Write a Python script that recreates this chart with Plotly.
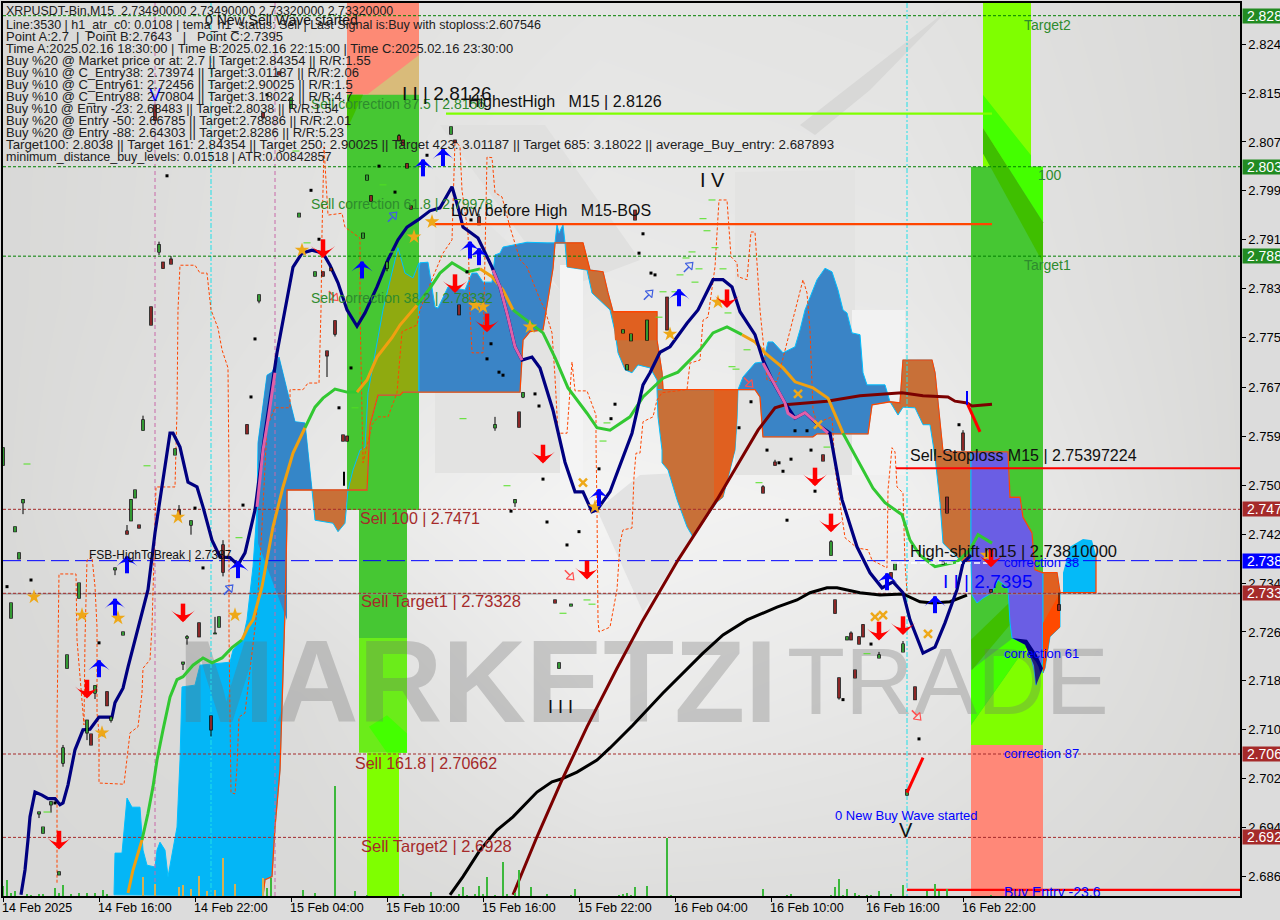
import plotly.graph_objects as go

# ---------- axis calibration ----------
BAR_MAX = 309.25
P_TOP, P_BOT = 2.8309, 2.6831

tick_prices = [2.8241,2.8160,2.8079,2.7998,2.7917,2.7836,2.7755,2.7673,2.7592,2.7511,2.7430,2.7349,2.7268,2.7187,2.7106,2.7025,2.6944,2.6863]
tick_labels = ["2.8241","2.8157","2.8079","2.7998","2.7916","2.7836","2.7754","2.7673","2.7592","2.7509","2.7428","2.7347","2.7266","2.7185","2.7104","2.7023","2.6942","2.6861"]
time_bars = [0,24,48,72,96,120,144,168,192,216,240]
time_labels = ["14 Feb 2025","14 Feb 16:00","14 Feb 22:00","15 Feb 04:00","15 Feb 10:00","15 Feb 16:00","15 Feb 22:00","16 Feb 04:00","16 Feb 10:00","16 Feb 16:00","16 Feb 22:00"]

# ---------- indicator lines ----------
tema_bar = [4.5,5.5,6.25,6.75,8,9.75,11.25,13,14.25,15,16.25,18,20,21.75,24,27.25,28,30,31.25,33,34.75,36.25,38,40,41.75,42.5,44.25,46.25,48.5,50,52.25,54.25,56.75,58.75,60.5,63,65.5,68.5,70.5,72.5,74.75,77.25,80,81.75,83.75,86,88.5,90.5,93.5,96.25,98.75,101,103.75,106.75,109.25,112.25,113.75,115,118.75,122.25,124.25,126.25,128,129.75,132.25,134.25,137.5,140.5,143,145,147.25,148.5,151.75,154.75,157.25,160,161.75,164.25,166.75,171,173.75,177.5,180,182.25,184.25,188,190,192.5,195.5,198,200.5,203.75,206.75,209.75,213.5,216.75,219.75,222.5,225,226.75,230,233,235.5,238.5,240,242]
tema_price = [2.6833,2.6874,2.6924,2.6962,2.7003,2.6998,2.6992,2.6992,2.6982,2.6985,2.7015,2.7073,2.7106,2.7107,2.7127,2.7127,2.7151,2.7175,2.7210,2.7255,2.7299,2.7338,2.7432,2.7525,2.7597,2.7597,2.7574,2.7516,2.7508,2.7475,2.7420,2.7392,2.7391,2.7379,2.7399,2.7470,2.7597,2.7730,2.7801,2.7872,2.7895,2.7900,2.7895,2.7875,2.7846,2.7801,2.7774,2.7796,2.7839,2.7884,2.7917,2.7938,2.7950,2.7965,2.7970,2.8005,2.7971,2.7938,2.7920,2.7872,2.7839,2.7789,2.7740,2.7718,2.7723,2.7705,2.7635,2.7549,2.7500,2.7500,2.7467,2.7470,2.7500,2.7553,2.7597,2.7677,2.7697,2.7731,2.7740,2.7779,2.7801,2.7851,2.7851,2.7839,2.7798,2.7760,2.7718,2.7682,2.7647,2.7622,2.7631,2.7611,2.7597,2.7487,2.7409,2.7366,2.7341,2.7351,2.7333,2.7288,2.7233,2.7243,2.7283,2.7338,2.7382,2.7395]
pink1_bar = [63.5,65,66.25,68]
pink1_price = [2.7475,2.7569,2.7619,2.7697]
pink2_bar = [122.5,124.25,126.25,128,129.75]
pink2_price = [2.7867,2.7839,2.7789,2.7740,2.7718]
pink3_bar = [190,192.5,195.5,196.25,198,200.5,203.75,206.25]
pink3_price = [2.7713,2.7682,2.7647,2.7630,2.7622,2.7631,2.7611,2.7597]

ma_bar = [31.25,32.5,34.75,36.25,37.5,38.5,40,41.75,43.5,45,47.5,50,52.25,54.75,57.25,59.75,61.25,62.5,64.75,67.5,70,72.5,75.5,78,80,83,86,88.5,91,93.5,97.25,99.25,103.5,106.75,109.25,112.25,116,119.25,122.25,125,127.5,131.75,135,138,141.25,146,148.5,151.75,156.75,160,165,168.75,174.25,177.5,181,184.75,188,190.5,195,198,202.5,206.25,210,214.25,217.5,220.5,224.75,226.75,229.25,233,238.5,241.75,243.75,247.25]
ma_price = [2.6836,2.6874,2.6924,2.6968,2.7012,2.7056,2.7106,2.7160,2.7189,2.7194,2.7213,2.7225,2.7217,2.7225,2.7242,2.7255,2.7276,2.7288,2.7343,2.7442,2.7508,2.7564,2.7606,2.7640,2.7655,2.7670,2.7665,2.7665,2.7685,2.7723,2.7755,2.7776,2.7809,2.7837,2.7862,2.7879,2.7864,2.7869,2.7856,2.7834,2.7801,2.7779,2.7763,2.7722,2.7672,2.7630,2.7606,2.7602,2.7624,2.7657,2.7688,2.7698,2.7735,2.7763,2.7773,2.7760,2.7748,2.7730,2.7705,2.7682,2.7672,2.7655,2.7597,2.7544,2.7506,2.7482,2.7462,2.7420,2.7395,2.7376,2.7384,2.7404,2.7429,2.7415]
ma_phase = list("ooo"+"g"*13+"o"*7+"g"*5+"o"*5+"g"*5+"ooo"+"g"*15+"o"*7+"g"*11)

dred_bar = [127.5,133.5,139.75,146,153.5,160,168.75,178.5,188.75,193,195.5,206,214.25,224.75,230,236.25,238,241,242.25,247.25]
dred_price = [2.6833,2.6929,2.7023,2.7111,2.7208,2.7288,2.7387,2.7487,2.7602,2.7639,2.7644,2.7650,2.7659,2.7664,2.7659,2.7657,2.7650,2.7647,2.7642,2.7645]
black_bar = [111.75,115,119.25,123.5,127.5,133.5,137.25,139.75,143.5,148.5,151.75,157.5,165,175,180,186,193.5,198.5,201.75,206,208.5,214.25,219.25,225,229.25,232.5,236.75,241]
black_price = [2.6833,2.6863,2.6907,2.6940,2.6962,2.7003,2.7020,2.7025,2.7036,2.7056,2.7076,2.7114,2.7167,2.7233,2.7263,2.7288,2.7309,2.7321,2.7333,2.7341,2.7341,2.7333,2.7329,2.7331,2.7318,2.7316,2.7318,2.7329]

step_bar = [13.5,13.5,14,18.25,18.5,20.25,20.5,21,22.25,23,23.5,23.5,24,24,30.25,31,31.75,33.75,34.75,35,36.75,37.25,37.5,38,38.25,43,43.5,43.75,44.25,48,49.25,51,52,53.75,54.75,56.25,56.5,56.5,56.5,57,58,58.5,59,60.5,62.5,63.5,64.75,66,68,71.75,71.75,75,76.25,79,79.5,79.75,80.25,81,81.25,84.75,85.5,89.25,89.25,90,92.25,93.75,96.25,98.5,99.75,103.5,104.25,107.5,110,112.25,113,114.25,114.75,116.25,116.75,117.25,120,121,122.25,123,124.75,126.75,129.25,131,134.25,135.5,137.25,138,138.75,141,142.25,143,146,148.25,148.25,148.5,148.75,149,151.75,153.5,154.25,155,157.25,157.75,158.25,159.25,160,162.5,163.5,164.75,171,171.75,174.25,175,176.25,178,179,181,182,183.5,183.75,186,187,188,188.75,189.25,191,193.5,200,201,201.75,202.5,203.5,207.25,208,209.25,210.5,213.5,216.25,217.25,221,221.25,222.25,223,223.5,225,225.5,226]
step_price = [2.6853,2.7122,2.7364,2.7364,2.7255,2.7114,2.7255,2.7387,2.7392,2.7343,2.7276,2.7134,2.7101,2.7018,2.7016,2.7061,2.7101,2.7111,2.7167,2.7208,2.7222,2.7276,2.7333,2.7470,2.7508,2.7508,2.7635,2.7801,2.7875,2.7875,2.7862,2.7862,2.7801,2.7771,2.7735,2.7705,2.7525,2.7359,2.7263,2.7002,2.7000,2.7045,2.7127,2.7134,2.7250,2.7304,2.7442,2.7607,2.7639,2.7639,2.7669,2.7669,2.7680,2.7680,2.7801,2.7928,2.8071,2.7983,2.7958,2.7961,2.7938,2.7920,2.7801,2.7548,2.7611,2.7624,2.7624,2.7664,2.7765,2.7776,2.7801,2.7856,2.7895,2.7917,2.8082,2.8071,2.7999,2.7928,2.7801,2.7730,2.7730,2.8054,2.8053,2.7995,2.7988,2.7938,2.7884,2.7872,2.7818,2.7801,2.7763,2.7690,2.7597,2.7597,2.7715,2.7667,2.7667,2.7627,2.7581,2.7470,2.7288,2.7268,2.7276,2.7338,2.7415,2.7437,2.7440,2.7525,2.7564,2.7564,2.7616,2.7624,2.7652,2.7664,2.7669,2.7713,2.7718,2.7784,2.7789,2.7872,2.7983,2.7983,2.7889,2.7879,2.7856,2.7851,2.7930,2.7930,2.7846,2.7801,2.7685,2.7682,2.7851,2.7829,2.7768,2.7635,2.7614,2.7624,2.7541,2.7482,2.7424,2.7407,2.7404,2.7387,2.7374,2.7503,2.7573,2.7566,2.7508,2.7498,2.7382,2.7333]

spanb_bar = [65,65.5,67.25,68,69.25,70,70.5,71,71,91,91.25,91.75,93.75,99.25,100,129.25,130,131.75,135,136,137.5,138,145,146.75,150,151.25,152.5,163.5,163.5,164.75,165,183.75,188,189.25,189.75,190,202.5,203.5,216.25,217.25,221.75,224.25,225,232.25,233,233.75,234.75,235,251.25,251.75,254.25,255,257.25,258,260,263.5,264.25,273.25,273.25]
spanb_price = [2.6831,2.6858,2.6863,2.6945,2.7040,2.7189,2.7304,2.7453,2.7503,2.7503,2.7541,2.7611,2.7660,2.7660,2.7665,2.7665,2.7751,2.7765,2.7768,2.7809,2.7870,2.7912,2.7912,2.7867,2.7864,2.7829,2.7798,2.7798,2.7751,2.7697,2.7669,2.7669,2.7669,2.7657,2.7614,2.7591,2.7591,2.7596,2.7596,2.7644,2.7649,2.7647,2.7718,2.7718,2.7697,2.7647,2.7591,2.7566,2.7566,2.7491,2.7491,2.7458,2.7432,2.7371,2.7366,2.7366,2.7333,2.7333,2.7395]

# ---------- clouds ----------
c1_bar = [27.75,28,29.75,31,32.25,34.25,35,36,38,38.5,39.25,40.5,41.25,42.5,43.5,44.25,44.75,48,49.25,56.75,57.5,60,61,62.5,63.5,63.75,66,67.25,69,71,73,75.5,76.75,77.25,71,71,70.5,70,69.25,68,67.25,65.5,65]
c1_price = [2.6833,2.6902,2.6902,2.6993,2.6978,2.6978,2.6907,2.6882,2.6879,2.6907,2.6920,2.6907,2.6863,2.6907,2.6945,2.7056,2.7177,2.7180,2.7213,2.7218,2.7238,2.7258,2.7288,2.7376,2.7470,2.7581,2.7693,2.7698,2.7723,2.7669,2.7616,2.7614,2.7536,2.7503,2.7503,2.7453,2.7304,2.7189,2.7040,2.6945,2.6863,2.6858,2.6831]
c1s_bar = [63.75,66,67.25,69,71,73,75.5,76.75,77.25,71,71,71,63.75]
c1s_price = [2.7581,2.7693,2.7698,2.7723,2.7669,2.7616,2.7614,2.7536,2.7503,2.7503,2.7453,2.7288,2.7415]
c2_bar = [77.25,78,82.5,83.75,85.5,86.25]
c2_price = [2.7503,2.7453,2.7448,2.7434,2.7448,2.7503]
c3o_bar = [86.25,87.5,89.25,90.5,91.25,95,98.75,100.5,102.5,104,104,100,99.25,93.75,91.75,91.25,91]
c3o_price = [2.7503,2.7536,2.7569,2.7574,2.7664,2.7801,2.7904,2.7862,2.7854,2.7879,2.7665,2.7665,2.7660,2.7660,2.7611,2.7541,2.7503]
c3_bar = [104,104.25,106.25,107.25,108,108.75,111.25,113,115.5,117.25,118.5,120,122.25,123,124.25,125,131,136,138,138.5,139,140,140.5,138,137.5,136,135,131.75,130,129.25,104]
c3_price = [2.7867,2.7879,2.7880,2.7837,2.7806,2.7804,2.7839,2.7837,2.7834,2.7862,2.7862,2.7847,2.7847,2.7892,2.7895,2.7905,2.7913,2.7912,2.7912,2.7942,2.7928,2.7942,2.7912,2.7912,2.7870,2.7809,2.7768,2.7765,2.7751,2.7665,2.7665]
c4_bar = [138,145,146.75,150,151.25,152.5,163.5,163.5,164.75,165,163.5,163.5,161.75,158.75,157.25,155.5,153.75,153,151.75,147.25,146,141,140.5]
c4_price = [2.7912,2.7912,2.7867,2.7864,2.7829,2.7798,2.7798,2.7751,2.7697,2.7669,2.7669,2.7685,2.7705,2.7710,2.7697,2.7702,2.7730,2.7765,2.7801,2.7829,2.7867,2.7872,2.7912]
c4a_bar = [141,145,146.75,146,141]
c4a_price = [2.7912,2.7912,2.7867,2.7867,2.7872]
c4b_bar = [152.5,163.5,163.5,153]
c4b_price = [2.7798,2.7798,2.7751,2.7751]
c5_bar = [165,183.75,183.5,183,181.75,180,178.5,172.5,171,168.5,166.25,164.75,164.75,163.75,163.5]
c5_price = [2.7669,2.7669,2.7619,2.7569,2.7536,2.7491,2.7483,2.7425,2.7442,2.7487,2.7536,2.7548,2.7569,2.7624,2.7669]
c5a_bar = [177.75,183.75,183.5,183,181.75,180,178.5,177.75]
c5a_price = [2.7669,2.7669,2.7619,2.7569,2.7536,2.7491,2.7483,2.7478]
c6_bar = [183.75,185,188,190,191.25,192.5,195,198,199.25,200.5,203.5,205.5,207.25,208.75,210,211,212.25,214.25,215,216,220.5,221.75,217.25,216.25,203.5,202.5,190,189.75,189.25,188]
c6_price = [2.7669,2.7690,2.7713,2.7715,2.7748,2.7748,2.7730,2.7740,2.7768,2.7801,2.7851,2.7870,2.7864,2.7834,2.7801,2.7796,2.7763,2.7760,2.7697,2.7677,2.7677,2.7649,2.7644,2.7596,2.7596,2.7591,2.7591,2.7614,2.7657,2.7669]
c7_bar = [221.75,224.25,225,232.25,233,233.75,234.75,235,242,242,240,238.5,235,234.25,233,231.75,230,228,225,223.75]
c7_price = [2.7649,2.7647,2.7718,2.7718,2.7697,2.7647,2.7591,2.7566,2.7566,2.7382,2.7382,2.7392,2.7415,2.7482,2.7558,2.7611,2.7611,2.7639,2.7640,2.7627]
c8_bar = [242,251.25,251.75,254.25,255,257.25,258,260,260,258.25,257.75,256.25,252.25,251.75,251.25,248.75,247.25,245,243.5,242.25,242]
c8_price = [2.7566,2.7566,2.7491,2.7491,2.7458,2.7432,2.7371,2.7366,2.7222,2.7180,2.7205,2.7247,2.7258,2.7283,2.7341,2.7354,2.7333,2.7324,2.7316,2.7329,2.7382]
c9_bar = [260,263.5,264.25,264.25,261.75,260.5,260]
c9_price = [2.7366,2.7366,2.7333,2.7276,2.7260,2.7208,2.7200]
c9d_bar = [260,264.25,264.25,261.75,260.5,260]
c9d_price = [2.7283,2.7333,2.7276,2.7260,2.7208,2.7200]
cres_bar = [252.25,256,258.5,260,258.25,257.75,255.5]
cres_price = [2.7258,2.7255,2.7230,2.7208,2.7180,2.7213,2.7247]
c10_bar = [265,265,266.75,270,272.25,273.25,273.25]
c10_price = [2.7333,2.7366,2.7409,2.7422,2.7420,2.7395,2.7333]

# ---------- candles: bar, open, high, low, close ----------
candle_rows = [
(0,2.7544,2.7573,2.7544,2.7573),(2,2.7291,2.7316,2.7291,2.7316),(3,2.7434,2.7442,2.7434,2.7442),(4,2.7389,2.7399,2.7389,2.7399),(5,2.7482,2.7487,2.7463,2.7487),
(9,2.6967,2.6970,2.6960,2.6970),(10,2.6935,2.6945,2.6935,2.6945),(12,2.6982,2.6987,2.6969,2.6987),(14,2.6866,2.6871,2.6866,2.6871),(15,2.7051,2.7081,2.7045,2.7076),
(16,2.7208,2.7230,2.7208,2.7230),(19,2.7324,2.7349,2.7324,2.7349),(21,2.7101,2.7122,2.7089,2.7122),(22,2.7099,2.7099,2.7081,2.7081),(23,2.7167,2.7179,2.7157,2.7179),
(26,2.7169,2.7169,2.7146,2.7146),(27,2.7122,2.7127,2.7118,2.7127),(28,2.7371,2.7374,2.7362,2.7374),(30,2.7263,2.7268,2.7263,2.7268),(31,2.7435,2.7445,2.7430,2.7430),
(32,2.7452,2.7487,2.7452,2.7487),(33,2.7490,2.7503,2.7490,2.7503),(34,2.7445,2.7445,2.7440,2.7440),(35,2.7602,2.7626,2.7601,2.7619),(37,2.7806,2.7806,2.7776,2.7776),
(38,2.8140,2.8140,2.8115,2.8115),(39,2.7897,2.7914,2.7892,2.7909),(40,2.7880,2.7880,2.7870,2.7870),(42,2.7885,2.7890,2.7877,2.7877),(43,2.7561,2.7571,2.7561,2.7571),
(44,2.7470,2.7478,2.7462,2.7462),(45,2.7215,2.7218,2.7205,2.7218),(46,2.7258,2.7263,2.7247,2.7260),(47,2.7445,2.7452,2.7429,2.7452),(49,2.7283,2.7283,2.7260,2.7260),
(52,2.7129,2.7129,2.7095,2.7106),(53,2.7265,2.7293,2.7265,2.7266),(54,2.7276,2.7293,2.7276,2.7293),(55,2.7412,2.7420,2.7360,2.7367),(61,2.7611,2.7611,2.7596,2.7596),
(64,2.7816,2.7826,2.7812,2.7826),(65,2.8127,2.8127,2.8119,2.8119),(69,2.8195,2.8195,2.8190,2.8190),(72,2.8135,2.8152,2.8135,2.8152),(74,2.7955,2.7961,2.7955,2.7961),
(78,2.7857,2.7864,2.7857,2.7864),(80,2.7864,2.7864,2.7857,2.7857),(81,2.7733,2.7733,2.7690,2.7725),(82,2.7870,2.7870,2.7866,2.7866),(83,2.7783,2.7783,2.7757,2.7761),
(85,2.7594,2.7594,2.7584,2.7584),(86,2.7592,2.7592,2.7584,2.7584),(90,2.7920,2.7928,2.7920,2.7928),(91,2.8016,2.8024,2.8016,2.8024),(92,2.7990,2.7990,2.7981,2.7981),
(96,2.7870,2.7880,2.7865,2.7880),(99,2.8089,2.8092,2.8081,2.8081),(100,2.8082,2.8082,2.8074,2.8074),(101,2.8043,2.8043,2.8036,2.8036),(102,2.7973,2.7973,2.7968,2.7968),
(112,2.8092,2.8104,2.8092,2.8104),(113,2.8082,2.8082,2.8078,2.8078),(114,2.7809,2.7809,2.7793,2.7793),(119,2.7955,2.7960,2.7942,2.7942),(123,2.7606,2.7624,2.7601,2.7611),
(128,2.7482,2.7487,2.7475,2.7487),(129,2.7632,2.7632,2.7607,2.7607),(130,2.7657,2.7664,2.7655,2.7664),(138,2.7321,2.7321,2.7316,2.7316),(139,2.7208,2.7217,2.7208,2.7217),
(142,2.7311,2.7314,2.7311,2.7314),(155,2.7763,2.7768,2.7763,2.7768),(156,2.7702,2.7710,2.7702,2.7710),(157,2.7750,2.7761,2.7750,2.7761),(158,2.7966,2.7966,2.7950,2.7950),
(161,2.7751,2.7784,2.7751,2.7784),(166,2.7822,2.7822,2.7768,2.7768),(190,2.7508,2.7511,2.7498,2.7498),(193,2.7549,2.7553,2.7544,2.7544),(205,2.7561,2.7561,2.7551,2.7551),
(207,2.7395,2.7420,2.7395,2.7417),(208,2.7321,2.7321,2.7299,2.7299),(209,2.7192,2.7192,2.7156,2.7159),(211,2.7255,2.7260,2.7255,2.7260),(212,2.7266,2.7269,2.7255,2.7255),
(213,2.7205,2.7205,2.7192,2.7192),(214,2.7260,2.7260,2.7248,2.7248),(215,2.7280,2.7280,2.7260,2.7260),(219,2.7225,2.7235,2.7225,2.7230),(222,2.7366,2.7366,2.7357,2.7357),
(223,2.7371,2.7382,2.7371,2.7382),(225,2.7235,2.7253,2.7235,2.7248),(226,2.6998,2.7007,2.6998,2.7007),(228,2.7177,2.7177,2.7156,2.7156),(236,2.7491,2.7491,2.7465,2.7465),
(240,2.7597,2.7602,2.7569,2.7569),(247,2.7338,2.7338,2.7334,2.7334),(264,2.7313,2.7333,2.7304,2.7304),
]
tiny_bar = [1,7,13,24,25,41,48,50,60,62,63,66,77,79,84,87,94,98,103,106,116,117,121,122,124,125,127,133,134,135,136,141,144,149,152,153,159,160,162,163,184,187,191,194,195,196,197,198,201,202,203,210,217,229,235,239]
tiny_price = [2.7343,2.7354,2.6985,2.7250,2.7098,2.8023,2.7473,2.7374,2.7478,2.7657,2.7753,2.8157,2.7999,2.7918,2.7639,2.7705,2.8039,2.7996,2.7920,2.8057,2.7864,2.7950,2.7720,2.7745,2.7698,2.7693,2.7468,2.7662,2.7642,2.7521,2.7450,2.7412,2.7434,2.7538,2.7621,2.7645,2.7895,2.7927,2.7862,2.7859,2.7606,2.7649,2.7569,2.7548,2.7534,2.7453,2.7554,2.7601,2.7601,2.7569,2.7501,2.7156,2.7248,2.7091,2.7382,2.7611]

# ---------- volumes (tick volume, arbitrary units) ----------
vol_bar = [0,1,2,3,6,7,9,10,13,14,15,17,19,21,23,25,26,35,38,44,45,47,49,51,53,55,58,65,66,67,75,78,83,88,91,100,107,114,115,116,118,119,120,121,123,125,126,128,129,132,136,142,143,154,155,156,157,158,161,166,167,190,196,197,207,208,209,210,211,213,214,216,217,219,222,225,231,233,234,236,247]
vol_size = [10,16,3,5,2,1,2,2,8,3,11,2,3,3,3,6,2,19,12,9,11,7,20,5,6,38,12,18,8,18,6,3,110,5,1,2,4,2,9,1,2,10,2,19,1,34,2,3,26,9,2,1,7,1,2,3,1,9,10,58,1,7,1,2,1,9,17,1,7,3,1,1,1,5,2,11,5,12,5,7,1]

# ---------- signal markers ----------
up_bar = [89.75,105,110,116.75,119,149,169,31,58.75,28,24,221,233]
up_price = [2.7867,2.8036,2.8053,2.7900,2.7889,2.7490,2.7821,2.7379,2.7371,2.7309,2.7207,2.7351,2.7313]
down_bar = [80,113,121,135,146,203,207,181,14,21,45,219,225,247]
down_price = [2.7904,2.7846,2.7781,2.7564,2.7372,2.7526,2.7450,2.7821,2.6925,2.7175,2.7301,2.7271,2.7280,2.7392]
star_bar = [74.75,102.75,43.75,7.75,19.75,28.75,58,24.75,107.25,118,120,178.75,166.75,131.75,148,246]
star_price = [2.7900,2.7922,2.7458,2.7326,2.7296,2.7291,2.7296,2.7101,2.7947,2.7809,2.7806,2.7814,2.7761,2.7773,2.7475,2.7395]
cross_bar = [145,198.75,203.75,218,220,231.25]
cross_price = [2.7515,2.7662,2.7611,2.7293,2.7296,2.7265]
hollow_blue_bar = [97.75,56.75,171.75,161.75]
hollow_blue_price = [2.7958,2.7341,2.7875,2.7829]
hollow_red_bar = [83,186.75,142,228.75]
hollow_red_price = [2.7821,2.7678,2.7359,2.7127]
lime_bar = [6,36,59,88,76,73.25,95,97.25,177.25,175,176,178,172.25,170.75,174,169.25,180,173,165,168,126,115,150,151,182.25,183.25,181.25,186,189,146,147.25,140,164,206,11,216]
lime_price = [2.7546,2.7543,2.7424,2.7639,2.7912,2.8064,2.8008,2.7897,2.7983,2.7952,2.7932,2.7904,2.7897,2.7887,2.7869,2.7859,2.7869,2.7847,2.7831,2.7831,2.7510,2.7621,2.7584,2.7614,2.7707,2.7703,2.7796,2.7735,2.7515,2.7321,2.7314,2.7299,2.7789,2.7574,2.6970,2.7232]

# ---------- levels ----------
level_green = [2.8288,2.8038,2.7890]
level_green_tag = ["2.8286","2.8038","2.7886"]
level_brown = [2.7471,2.7332,2.7066,2.6928]
level_brown_tag = ["2.7471","2.7332","2.7066","2.6928"]
level_blue = 2.7386
level_blue_tag = "2.7387"
vlines_magenta = [38,68]
vlines_cyan = [52,226]

# ---------- helpers ----------
def bx(px): return (px-3)/4
def py(yp): return 2.8314-yp*0.0001655

traces = []
def add(t): traces.append(t)
def poly(xs,ys,color,edge=None,w=0):
    add(go.Scatter(x=xs+xs[:1],y=ys+ys[:1],mode="lines",fill="toself",fillcolor=color,
                   line=dict(color=edge or color,width=w if edge else 0),hoverinfo="skip",showlegend=False))
def line(xs,ys,color,w=1,dash=None):
    add(go.Scatter(x=xs,y=ys,mode="lines",line=dict(color=color,width=w,dash=dash),hoverinfo="skip",showlegend=False,connectgaps=False))
def pts(xs,ys,sym,size,color,lw=0,lc=None,angle=0):
    add(go.Scatter(x=xs,y=ys,mode="markers",marker=dict(symbol=sym,size=size,color=color,angle=angle,
        line=dict(width=lw,color=lc or color)),hoverinfo="skip",showlegend=False,cliponaxis=True))
def label(xp,yp,text,size,color):
    add(go.Scatter(x=[bx(xp)],y=[py(yp+2)],mode="text",text=[text],textposition="middle right",
        textfont=dict(family="Liberation Sans",size=size,color=color),hoverinfo="skip",showlegend=False,cliponaxis=True))

# background gradient
bg_px_x = [-20,300,600,900,1260]
bg_px_y = [-20,300,500,700,920]
bg_z = [[216,224,228,226,216],[216,226,234,232,216],[216,232,244,240,216],[216,220,236,230,216],[216,216,220,220,214]]
add(go.Heatmap(x=[bx(v) for v in bg_px_x],y=[py(v) for v in bg_px_y],z=bg_z,zsmooth="best",zmin=200,zmax=255,
    colorscale=[[0,"rgb(200,200,198)"],[1,"rgb(255,255,255)"]],showscale=False,hoverinfo="skip"))

# faint logo behind the chart
def decor(points,color):
    poly([bx(p[0]) for p in points],[py(p[1]) for p in points],color)
decor([(435,175),(560,290),(560,473),(435,473)],"#e3e3e2")
decor([(440,125),(545,125),(640,260),(560,290)],"#e0e0df")
decor([(597,510),(643,612),(735,470),(640,475)],"#e3e3e3")
decor([(735,172),(855,170),(855,475),(735,475)],"#e3e3e2")
decor([(560,265),(583,265),(583,490),(560,490)],"#f4f4f4")
decor([(852,310),(905,310),(905,475),(852,475)],"#f2f2f2")
decor([(800,125),(950,8),(870,90),(815,135)],"#d8d8d7")

# time / price zones
poly([86,104,104,86],[2.8309,2.8309,2.8157,2.8157],"#fd8a75")
poly([91,104,104],[2.8157,2.8223,2.8157],"#d9bb7a")
poly([86,104,104,86],[2.8157,2.8157,2.7470,2.7470],"#46c733")
poly([86,90,86],[2.8157,2.8157,2.8100],"#3fbf00")
poly([89,101,101,89],[2.7470,2.7470,2.7258,2.7258],"#46c733")
poly([89,101,101,89],[2.7258,2.7258,2.7068,2.7068],"#6bec1a")
poly([91.5,96,101,101,96],[2.7111,2.7130,2.7100,2.7068,2.7068],"#44ff00")
poly([91,99,99,91],[2.7068,2.7068,2.6831,2.6831],"#7fff00")
poly([245,257,257,245],[2.8309,2.8309,2.8038,2.8038],"#7fff00")
poly([242,260,260,242],[2.8038,2.8038,2.7081,2.7081],"#46c733")
poly([245,257,257,260,260,245],[2.8157,2.8057,2.8038,2.8038,2.7946,2.8102],"#44ff00")
poly([245,260,260,245],[2.8102,2.7946,2.7879,2.8060],"#3fbf00")
poly([242,242,250,257,260,260],[2.7081,2.7114,2.7189,2.7255,2.7205,2.7081],"#7fff00")
poly([242,242,252.5,257,250],[2.7114,2.7205,2.7258,2.7255,2.7189],"#44ff00")
poly([251.5,251.75,242.25,242],[2.7316,2.7280,2.7205,2.7255],"#3fbf00")
poly([242,260,260,242],[2.7081,2.7081,2.6831,2.6831],"#ff8878")

# clouds
CY = "#00bfff"
poly(c1_bar,c1_price,"#04b6f6",CY,1)
poly(c1s_bar,c1s_price,"#3586c8")
poly(c2_bar,c2_price,"#c87038",CY,1)
poly(c3o_bar,c3o_price,"#8faa10",CY,1)
poly(c3_bar,c3_price,"#3a84c6",CY,1)
poly(c4_bar,c4_price,"#c87038",CY,1)
poly(c4a_bar,c4a_price,"#e06020")
poly(c4b_bar,c4b_price,"#e06020")
poly(c5_bar,c5_price,"#c87038",CY,1)
poly(c5a_bar,c5a_price,"#e06020")
poly(c6_bar,c6_price,"#3a84c6",CY,1)
poly(c7_bar,c7_price,"#c87038",CY,1)
poly(c8_bar,c8_price,"#6a5ee4",CY,1)
poly(c9_bar,c9_price,"#e06020",CY,1)
poly(c9d_bar,c9d_price,"#ff4a00")
poly(cres_bar,cres_price,"#000080")
poly(c10_bar,c10_price,"#04baf8")
line(spanb_bar,spanb_price,"#ff4500",1.3)

# watermark, semi-transparent over the zones and clouds
add(go.Scatter(x=[bx(178)],y=[py(693)],mode="text",text=["MARKETZI"],textposition="middle right",
    textfont=dict(family="Liberation Sans",size=116,weight=700,color="rgba(110,110,110,0.30)"),hoverinfo="skip",showlegend=False))
add(go.Scatter(x=[bx(787)],y=[py(690)],mode="text",text=["TRADE"],textposition="middle right",
    textfont=dict(family="Liberation Sans",size=95,color="rgba(110,110,110,0.30)"),hoverinfo="skip",showlegend=False))

# vertical dashed time lines
for v in vlines_magenta:
    line([v,v],[P_TOP,P_BOT],"#c868a8",1,"4px,3px")
for v in vlines_cyan:
    line([v,v],[P_TOP,P_BOT],"#20e0e8",1,"5px,2px,2px,2px")

# horizontal levels
line([0,BAR_MAX],[2.7331,2.7331],"#8a8a8a",1)
for v in level_green:
    line([0,BAR_MAX],[v,v],"#008000",1,"3px,2px")
for v in level_brown:
    line([0,BAR_MAX],[v,v],"#a52a2a",1,"3px,2px")
line([0,BAR_MAX],[level_blue,level_blue],"#0000ff",1,"18px,6px")

# thin stepped stop line
line(step_bar,step_price,"#ff4500",1,"3px,2px")

# moving averages
line(black_bar,black_price,"#000000",3)
line(dred_bar,dred_price,"#7b0000",3)
run_x,run_y=[ma_bar[0]],[ma_price[0]]
for i in range(1,len(ma_bar)):
    run_x.append(ma_bar[i]); run_y.append(ma_price[i])
    if i==len(ma_bar)-1 or ma_phase[i+1]!=ma_phase[i]:
        line(run_x,run_y,"#f0a010" if ma_phase[i]=="o" else "#32c832",3)
        run_x,run_y=[ma_bar[i]],[ma_price[i]]
line(tema_bar,tema_price,"#000080",3.2)
line(pink1_bar,pink1_price,"#e060a8",3)
line(pink2_bar,pink2_price,"#e060a8",3)
line(pink3_bar,pink3_price,"#e060a8",3)

# candles: wick, outline, coloured body, all taken from candle_rows
wx,wy,ox,oy,gx,gy,rx,ry=[],[],[],[],[],[],[],[]
PAD=0.00009
for b,o,h,l,c in candle_rows:
    top,bot=max(o,c),min(o,c)
    wx+=[b,b,None]; wy+=[h,l,None]
    ox+=[b,b,None]; oy+=[top+PAD,bot-PAD,None]
    if c>=o:
        gx+=[b,b,None]; gy+=[top,bot,None]
    else:
        rx+=[b,b,None]; ry+=[top,bot,None]
line(wx,wy,"#000000",1)
line(ox,oy,"#000000",3.5)
line(gx,gy,"#40c040",1.6)
line(rx,ry,"#b03030",1.6)
pts(tiny_bar,tiny_price,"square",3,"#000000")

# short segments
line([241,244.25],[2.7647,2.7599],"#ff0000",3)
line([226,230],[2.7002,2.7060],"#ff0000",3)
line([241,241],[2.7667,2.7644],"#0000ff",2)
line([85.25,85.25],[2.7533,2.7510],"#000000",2)
line([222.5,246.75],[2.7382,2.7382],"#ffffff",1.5,"6px,3px")

# fixed levels
line([bx(430),bx(992)],[2.7943,2.7943],"#ff4500",2.2)
line([bx(446),bx(992)],[2.8126,2.8126],"#7fff00",2.2)
line([bx(896),BAR_MAX],[2.7539,2.7539],"#ff0000",2.2)
line([226,BAR_MAX],[2.6841,2.6841],"#ff0000",2.2)

# markers
pts(lime_bar,lime_price,"line-ew",5,"#50e020",1)
pts(star_bar,star_price,"star",11,"#eea818")
pts(cross_bar,cross_price,"x-thin",8,"#eea818",2.5)
pts(up_bar,up_price,"line-ns",12,"#0000ff",4)
pts(up_bar,[p+0.0015 for p in up_price],"arrow-wide",15,"#0000ff")
pts(down_bar,down_price,"line-ns",12,"#ff0000",4.5)
pts(down_bar,[p-0.0017 for p in down_price],"arrow-wide",17,"#ff0000",angle=180)
pts(hollow_blue_bar,hollow_blue_price,"triangle-up-open",8,"#4060e0",1.2,angle=45)
pts([b-0.9 for b in hollow_blue_bar],[p-0.0007 for p in hollow_blue_price],"line-ne",5,"#4060e0",1.6)
pts(hollow_red_bar,hollow_red_price,"triangle-up-open",8,"#ff5050",1.2,angle=135)
pts([b-0.9 for b in hollow_red_bar],[p+0.0007 for p in hollow_red_price],"line-nw",5,"#ff5050",1.6)

# text on the chart
BR="#a52a2a"; GR="#2e8b2e"; BL="#0000ff"; BK="#101010"
label(205,20,"0 New Sell Wave started",14,BK)
label(311,104,"Sell correction 87.5 | 2.8156",14,GR)
label(311,204,"Sell correction 61.8 | 2.79978",14,GR)
label(311,298,"Sell correction 38.2 | 2.78332",14,GR)
label(402,93,"I I | 2.8126",19,BK)
label(468,101,"HighestHigh   M15 | 2.8126",16,BK)
label(451,210,"Low before High   M15-BOS",16,BK)
label(700,180,"I V",20,BK)
label(89,554,"FSB-HighToBreak | 2.7387",12,BK)
label(360,518,"Sell 100 | 2.7471",16,BR)
label(361,601,"Sell Target1 | 2.73328",16.5,BR)
label(355,763,"Sell 161.8 | 2.70662",16,BR)
label(361,846,"Sell Target2 | 2.6928",16.5,BR)
label(548,707,"I I I",18,BK)
label(1024,25,"Target2",14,GR)
label(1038,175,"100",14,GR)
label(1024,265,"Target1",14,GR)
label(910,455,"Sell-Stoploss M15 | 2.75397224",16,BK)
label(910,551,"High-shift m15 | 2.73810000",16.5,BK)
label(943,581,"I I | 2.7395",19,BL)
label(1004,562,"correction 38",13,BL)
label(1004,653,"correction 61",13,BL)
label(1004,753,"correction 87",13,BL)
label(835,815,"0 New Buy Wave started",13,BL)
label(1004,892,"Buy Entry -23.6",14,BL)
label(899,830,"V",20,BK)
label(149,95,"V",18,BL)
info_lines = [
 "XRPUSDT-Bin,M15  2.73490000 2.73490000 2.73320000 2.73320000",
 "Line:3530 | h1_atr_c0: 0.0108 | tema_h1_status: Sell | Last Signal is:Buy with stoploss:2.607546",
 "Point A:2.7  |  Point B:2.7643   |   Point C:2.7395",
 "Time A:2025.02.16 18:30:00 | Time B:2025.02.16 22:15:00 | Time C:2025.02.16 23:30:00",
 "Buy %20 @ Market price or at: 2.7 || Target:2.84354 || R/R:1.55",
 "Buy %10 @ C_Entry38: 2.73974 || Target:3.01187 || R/R:2.06",
 "Buy %10 @ C_Entry61: 2.72456 || Target:2.90025 || R/R:1.5",
 "Buy %10 @ C_Entry88: 2.70804 || Target:3.18022 || R/R:4.7",
 "Buy %10 @ Entry -23: 2.68483 || Target:2.8038 || R/R:1.54",
 "Buy %20 @ Entry -50: 2.66785 || Target:2.78886 || R/R:2.01",
 "Buy %20 @ Entry -88: 2.64303 || Target:2.8286 || R/R:5.23",
 "Target100: 2.8038 || Target 161: 2.84354 || Target 250: 2.90025 || Target 423: 3.01187 || Target 685: 3.18022 || average_Buy_entry: 2.687893",
 "minimum_distance_buy_levels: 0.01518 | ATR:0.00842857",
]
info_sizes = [12.4,12.55,13,12.9,13,13,13,13,12.8,13,13,13.3,12.5]
info_rows = [10,24,36,48,60,72,84,96,108,120,132,144,156]
for t,s,r in zip(info_lines,info_sizes,info_rows):
    label(6,r,t,s,"#202020")

# volumes on their own overlaying axis
vol_colors = ["#d8b050" if 28<=b<=65 else "#3cb83c" for b in vol_bar]
add(go.Bar(x=vol_bar,y=vol_size,yaxis="y2",width=0.25,marker=dict(color=vol_colors,line=dict(width=0)),hoverinfo="skip",showlegend=False))

# right hand tags and time labels
anns=[]
def tag(price,text,color):
    anns.append(dict(x=(1242-3)/1237,xref="paper",y=price,yref="y",text=" "+text,showarrow=False,xanchor="left",yanchor="middle",
        font=dict(family="Liberation Sans",size=14,color="#ffffff"),bgcolor=color,width=44,height=14,align="left",borderpad=0))
for v,t in zip(level_green,level_green_tag): tag(v,t,"#228b22")
for v,t in zip(level_brown,level_brown_tag): tag(v,t,"#a52a2a")
tag(level_blue,level_blue_tag,"#0000ff")
for b,t in zip(time_bars,time_labels):
    anns.append(dict(x=b,xref="x",y=-12/893,yref="paper",text=t,showarrow=False,xanchor="left",yanchor="middle",
        font=dict(family="Liberation Sans",size=12.5,color="#000000"),xshift=-3))

fig=go.Figure(traces)
fig.update_layout(width=1280,height=920,margin=dict(l=3,r=40,t=3,b=24,autoexpand=False),paper_bgcolor="#dcdcdc",plot_bgcolor="#e4e4e2",
    showlegend=False,annotations=anns,barmode="overlay",
    xaxis=dict(range=[0,BAR_MAX],tickvals=time_bars,ticktext=[""]*len(time_bars),ticks="outside",ticklen=4,tickcolor="#000",showgrid=False,zeroline=False,
               showline=True,linecolor="#000",linewidth=1.5,mirror=True,automargin=False),
    yaxis=dict(range=[P_BOT,P_TOP],side="right",tickvals=tick_prices,ticktext=tick_labels,ticks="outside",ticklen=4,tickcolor="#000",automargin=False,
               tickfont=dict(family="Liberation Sans",size=13,color="#000"),showgrid=False,zeroline=False,showline=True,linecolor="#000",linewidth=1.5,mirror=True),
    yaxis2=dict(range=[0,893],overlaying="y",visible=False))
fig.write_html("out.html",config=dict(displayModeBar=False),post_script="document.body.style.margin='0';")
